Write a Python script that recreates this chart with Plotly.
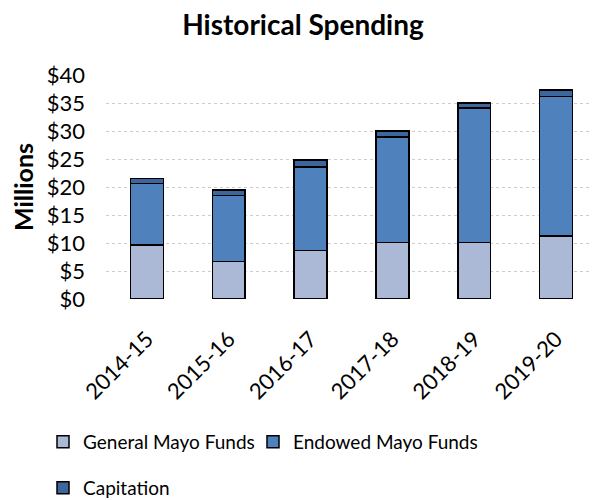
import plotly.graph_objects as go

categories = ["2014-15", "2015-16", "2016-17", "2017-18", "2018-19", "2019-20"]
general = [9.6, 6.7, 8.7, 10.05, 10.05, 11.25]
endowed = [11.0, 11.8, 14.9, 18.85, 24.05, 24.95]
capitation = [0.95, 0.95, 1.2, 1.1, 0.9, 1.1]
y_ticks = [0, 5, 10, 15, 20, 25, 30, 35, 40]
y_labels = ["$0", "$5", "$10", "$15", "$20", "$25", "$30", "$35", "$40"]

FONT = "Lato"
W, H = 590, 492  # page body has an 8px default margin
line = dict(color="#000000", width=1.5)

fig = go.Figure()
fig.add_trace(go.Bar(x=categories, y=general, name="General Mayo Funds",
                     marker=dict(color="#abb9d6", line=line), legend="legend",
                     showlegend=True))
fig.add_trace(go.Bar(x=categories, y=endowed, name="Endowed Mayo Funds",
                     marker=dict(color="#4f81bd", line=line), legend="legend2",
                     showlegend=True))
fig.add_trace(go.Bar(x=categories, y=capitation, name="Capitation",
                     marker=dict(color="#3d679c", line=line), legend="legend3",
                     showlegend=True))

def leg(px, py):
    return dict(orientation="h", xref="container", yref="container",
                x=px / W, y=1 - py / H, xanchor="left", yanchor="middle",
                font=dict(size=19), bgcolor="rgba(0,0,0,0)")

fig.update_layout(
    width=W, height=H, showlegend=True,
    barmode="stack", bargap=0.6,
    paper_bgcolor="white", plot_bgcolor="white",
    margin=dict(l=98, r=1, t=67, b=201, autoexpand=False),
    font=dict(family=FONT, size=17, color="#000000"),
    title=dict(text="<b>Historical Spending</b>", x=0.5, xanchor="center",
               y=1 - 17 / H, yanchor="middle", xref="container", yref="container",
               font=dict(size=28, family=FONT)),
    xaxis=dict(tickangle=-45, showgrid=False, showline=False, ticks="",
               tickfont=dict(size=22), automargin=False, ticklabelstandoff=22),
    yaxis=dict(range=[0, 40], tickvals=y_ticks, ticktext=y_labels,
               showgrid=True, gridcolor="#cccccc", gridwidth=1, griddash="dot",
               zeroline=False, showline=False, ticks="", tickfont=dict(size=22),
               automargin=False, ticklabelstandoff=20,
               title=dict(text="<b>Millions</b>", font=dict(size=25), standoff=6)),
    legend=leg(35, 434),
    legend2=leg(245, 434),
    legend3=leg(35, 480),
)

fig.write_html("out.html")
